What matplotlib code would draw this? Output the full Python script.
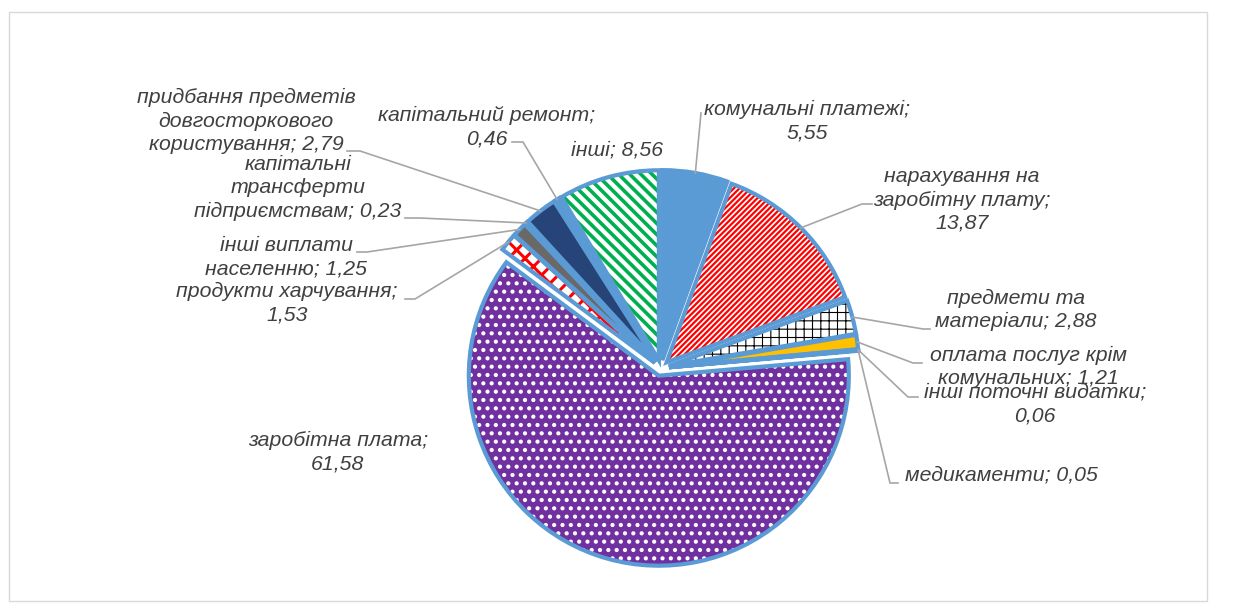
import matplotlib
matplotlib.use("Agg")
import matplotlib.pyplot as plt
import numpy as np
from matplotlib.patches import Rectangle

# ---------------- data ----------------
categories = [
    "комунальні платежі", "нарахування на заробітну плату", "предмети та матеріали",
    "оплата послуг крім комунальних", "інші поточні видатки", "медикаменти",
    "заробітна плата", "продукти харчування", "інші виплати населенню",
    "капітальні трансферти підприємствам", "придбання предметів довгосторкового користування",
    "капітальний ремонт", "інші",
]
values = [5.55, 13.87, 2.88, 1.21, 0.06, 0.05, 61.58, 1.53, 1.25, 0.23, 2.79, 0.46, 8.56]
label_texts = [
    "комунальні платежі;\n5,55",
    "нарахування на\nзаробітну плату;\n13,87",
    "предмети та\nматеріали; 2,88",
    "оплата послуг крім\nкомунальних; 1,21",
    "інші поточні видатки;\n0,06",
    "медикаменти; 0,05",
    "заробітна плата;\n61,58",
    "продукти харчування;\n1,53",
    "інші виплати\nнаселенню; 1,25",
    "капітальні\nтрансферти\nпідприємствам; 0,23",
    "придбання предметів\nдовгосторкового\nкористування; 2,79",
    "капітальний ремонт;\n0,46",
    "інші; 8,56",
]

# ---------------- styles ----------------
face_colors = ['#5B9BD5', 'white', 'white', '#FFC000', '#A5A5A5', '#4472C4', '#7030A0',
               'white', '#696969', '#5B9BD5', '#264478', '#5B9BD5', 'white']
hatches = [None, '//////', '++', None, None, None, '..', 'xx', None, None, None, None, '\\\\\\']
hatch_colors = ['none', '#FF0000', '#000000', 'none', 'none', 'none', 'white',
                '#FF0000', 'none', 'none', 'none', 'none', '#00B050']
hatch_lws = [1, 1.6, 0.8, 1, 1, 1, 1.8, 2.2, 1, 1, 1, 1, 2.6]
EDGE = '#5B9BD5'
TEXT = '#404040'
LEADER = '#A6A6A6'

W, H = 1246, 613
center = (661, H - 368)
radius = 190
expl = [8] * len(values)

# label layout (image pixel coords): text centre, leader elbow, leader end
label_pos = [(807, 121), (962, 200), (1016, 310), (1028, 367), (1035, 404), (1001, 475),
             (338, 452), (287, 303), (286, 257), (298, 188), (246, 121), (487, 127), (617, 150)]
leader_pts = [
    [(701, 113)],
    [(862, 204), (872, 204)],
    [(923, 329), (930, 329)],
    [(913, 363), (922, 363)],
    [(908, 397), (918, 397)],
    [(890, 483), (898, 483)],
    None,
    [(415, 299), (405, 299)],
    [(367, 252), (357, 252)],
    [(420, 218), (405, 218)],
    [(360, 151), (347, 151)],
    [(523, 142), (512, 142)],
    None,
]

plt.rcParams['hatch.linewidth'] = 1.5
fig = plt.figure(figsize=(W / 100, H / 100), dpi=100)
ax = fig.add_axes([0, 0, 1, 1])

common = dict(startangle=90, counterclock=False, center=center, radius=radius,
              explode=expl, frame=True)

# fill layer
wedges, _ = ax.pie(values, colors=face_colors, wedgeprops=dict(linewidth=0), **common)
# hatch layer
hw, _ = ax.pie(values, colors=['none'] * len(values), **common)
for w, h, hc, hl in zip(hw, hatches, hatch_colors, hatch_lws):
    w.set_facecolor('none')
    w.set_linewidth(0)
    if h:
        w.set_hatch(h)
        w.set_edgecolor(hc)
        try:
            w.set_hatch_linewidth(hl)
        except AttributeError:
            pass
    else:
        w.set_edgecolor('none')
# edge layer
ew, _ = ax.pie(values, colors=['none'] * len(values),
               wedgeprops=dict(edgecolor=EDGE, linewidth=3.0, joinstyle='miter'), **common)
for w in ew:
    w.set_facecolor('none')

# labels & leaders
for i, (w, txt) in enumerate(zip(wedges, label_texts)):
    tx, ty = label_pos[i]
    ax.text(tx, H - ty, txt, ha='center', va='center', multialignment='center',
            fontsize=15.3, style='italic', family=['Liberation Sans', 'DejaVu Sans'],
            color=TEXT, linespacing=1.27, zorder=5)
    if leader_pts[i] is not None:
        ang = np.deg2rad((w.theta1 + w.theta2) / 2)
        cx, cy = w.center
        ax_ = cx + w.r * np.cos(ang)
        ay_ = cy + w.r * np.sin(ang)
        xs = [ax_] + [p[0] for p in leader_pts[i]]
        ys = [ay_] + [H - p[1] for p in leader_pts[i]]
        ax.plot(xs, ys, color=LEADER, lw=1.2, zorder=4, solid_joinstyle='miter')

# chart border
ax.add_patch(Rectangle((9, H - 601), 1198, 589, facecolor='none', edgecolor='#D9D9D9', lw=1))

ax.set_xlim(0, W)
ax.set_ylim(0, H)
ax.set_axis_off()
fig.savefig('out.png', dpi=100, facecolor='white')
